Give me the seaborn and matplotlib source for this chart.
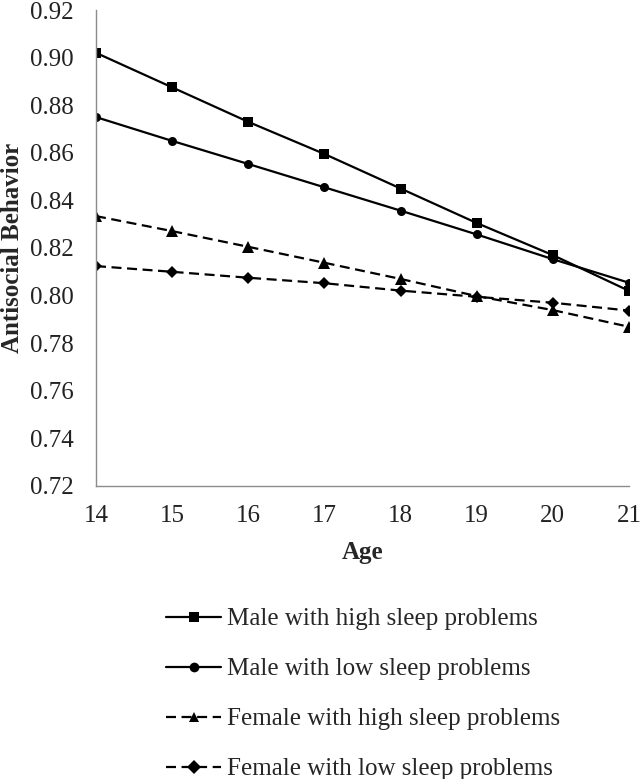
import pandas as pd
import matplotlib.pyplot as plt
import seaborn as sns

ages = [14, 15, 16, 17, 18, 19, 20, 21]
male_high = [0.902, 0.8875, 0.873, 0.8595, 0.845, 0.8305, 0.817, 0.802]
male_low = [0.875, 0.865, 0.8553, 0.8455, 0.8357, 0.8257, 0.8153, 0.8054]
female_high = [0.8334, 0.8271, 0.8205, 0.8138, 0.807, 0.7998, 0.7939, 0.7869]
female_low = [0.8124, 0.810, 0.8075, 0.8052, 0.8021, 0.7995, 0.797, 0.7937]
groups = ["Male with high sleep problems", "Male with low sleep problems",
          "Female with high sleep problems", "Female with low sleep problems"]

df = pd.DataFrame({
    "Age": ages * 4,
    "value": male_high + male_low + female_high + female_low,
    "group": [g for g in groups for _ in ages],
})

sns.set_style("white")
plt.rcParams['font.family'] = ['Liberation Serif', 'DejaVu Serif']

fig = plt.figure(figsize=(6.41, 7.79), dpi=100)
ax = fig.add_axes([96/641, 1 - 486/779, (629-96)/641, (486-10)/779])

markers = dict(zip(groups, ["s", "o", "^", "D"]))
dashes = dict(zip(groups, ["", "", (4.5, 2.5), (4.5, 2.5)]))
sizes = {"s": 7, "o": 6.5, "^": 8, "D": 6}
sns.lineplot(data=df, x="Age", y="value", hue="group", style="group",
             palette=["black"] * 4, markers=markers, dashes=dashes,
             linewidth=1.6, markersize=7, markeredgewidth=0, ax=ax)
for line, g in zip(ax.get_lines(), groups):
    line.set_markersize(sizes[markers[g]])

ax.set_xlim(14, 21)
ax.set_ylim(0.72, 0.92)
ax.set_xticks(ages)
ax.set_yticks([0.72 + 0.02 * i for i in range(11)])
ax.set_yticklabels([f"{0.72 + 0.02 * i:.2f}" for i in range(11)])
ax.tick_params(labelsize=18, length=0, colors="#222222")
ax.tick_params(axis="y", pad=16)
ax.tick_params(axis="x", pad=14)
for s in ["top", "right"]:
    ax.spines[s].set_visible(False)
for s in ["left", "bottom"]:
    ax.spines[s].set_color("#8c8c8c")
    ax.spines[s].set_linewidth(1)

ax.set_xlabel("Age", fontsize=18, fontweight="bold", labelpad=10)
ax.set_ylabel("Antisocial Behavior", fontsize=18, fontweight="bold", labelpad=4)

handles, labels = ax.get_legend_handles_labels()
ax.get_legend().remove()
fig.legend(handles, labels, loc="upper left", bbox_to_anchor=(166/641, 1 - 608/779),
           frameon=False, fontsize=18, handlelength=2.2, handletextpad=0.25,
           labelspacing=1.1, numpoints=1, borderpad=0, borderaxespad=0)

fig.savefig("out.png", dpi=100)
